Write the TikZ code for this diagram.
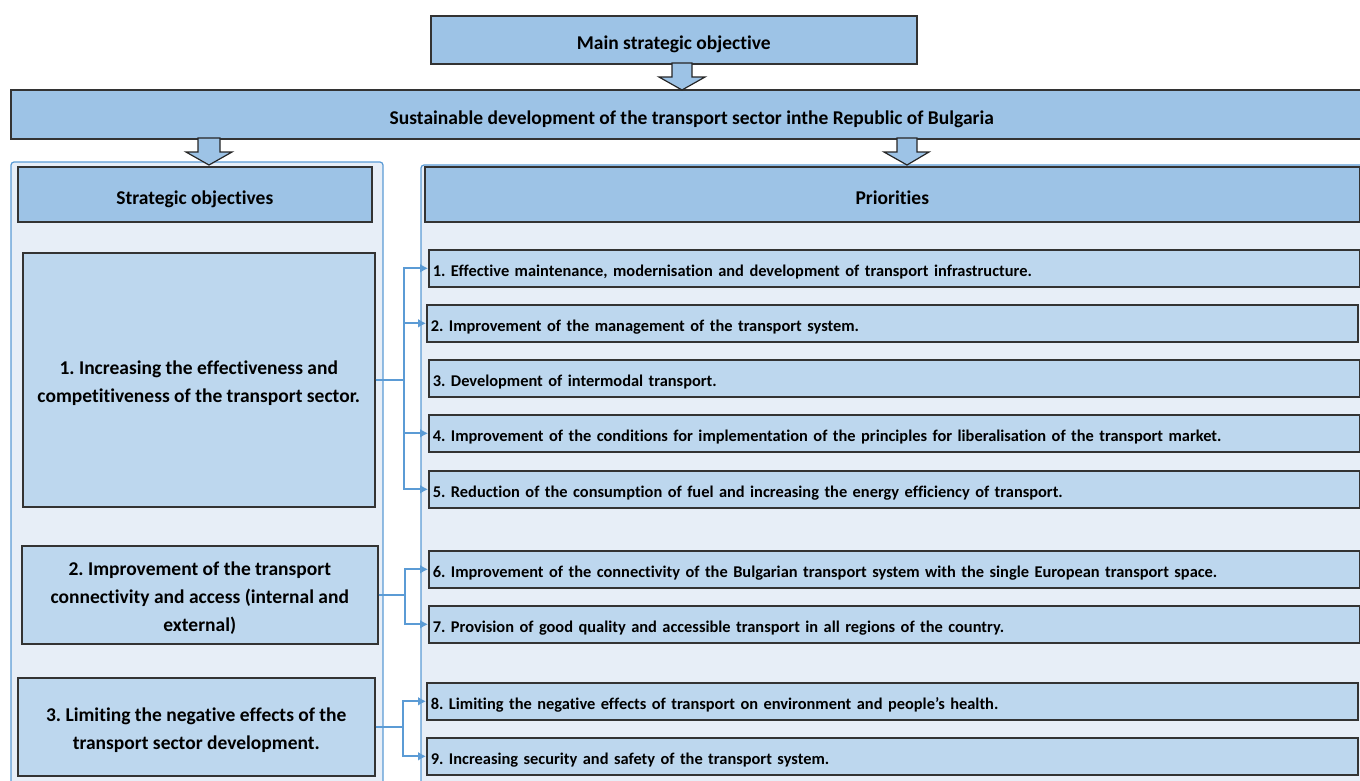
\documentclass[tikz,border=0pt]{standalone}
\usepackage{fontspec}
\setmainfont{Carlito}[Ligatures=NoCommon]
\usetikzlibrary{arrows.meta}
\frenchspacing
\definecolor{hdrblue}{RGB}{157,195,230}
\definecolor{boxblue}{RGB}{189,215,238}
\definecolor{panelfill}{RGB}{231,238,247}
\definecolor{linkblue}{RGB}{91,155,213}
\newcommand{\objstrut}{\rule{0pt}{20pt}}
\tikzset{
  hdrbox/.style={draw=black!80, line width=1.6pt, fill=hdrblue, anchor=north west, inner sep=0pt,
    text height=20pt, text depth=0pt, font=\bfseries\fontsize{19.5}{24}\selectfont},
  objbox/.style={draw=black!80, line width=1.6pt, fill=boxblue, anchor=north west, inner sep=0pt,
    align=center, font=\bfseries\fontsize{19.5}{28}\selectfont},
  pribox/.style={draw=black!80, line width=1.6pt, fill=boxblue, anchor=north west, inner xsep=4pt,
    inner ysep=0pt, minimum height=37pt, text width=923pt, align=left,
    text height=17pt, text depth=0pt, font=\bfseries\fontsize{16.4}{20}\selectfont},
  panel/.style={draw=linkblue, line width=1.2pt, fill=panelfill, rounded corners=3pt},
  blockarr/.style={draw=black!85, line width=1.2pt, fill=hdrblue},
  link/.style={draw=linkblue, line width=2.2pt, -{Latex[length=8pt,width=9pt]}}
}
\begin{document}
\begin{tikzpicture}[x=1pt,y=1pt,yscale=-1]
\clip (0,0) rectangle (1360,780);

%Shape: Panels
\draw [panel] (11,162) rectangle (383,800);
\draw [panel] (421,165) rectangle (1372,800);

% Top boxes
\node [hdrbox, minimum width=486pt, minimum height=48pt] (mainobj) at (430,15) {Main strategic objective};
\node [hdrbox, minimum width=1362pt, minimum height=49pt] (sustdev) at (10,89) {Sustainable development of the transport sector inthe Republic of Bulgaria};

%Shape: Block arrows
\draw [blockarr] (672,63) -- (692,63) -- (692,77) -- (705,77) -- (682,90) -- (659,77) -- (672,77) -- cycle;
\draw [blockarr] (198,138) -- (220,138) -- (220,152) -- (232,152) -- (209,165) -- (186,152) -- (198,152) -- cycle;
\draw [blockarr] (897,138) -- (917,138) -- (917,152) -- (929,152) -- (907,165) -- (884,152) -- (897,152) -- cycle;

% Column headers
\node [hdrbox, minimum width=354pt, minimum height=55pt] (objhdr) at (17,166) {Strategic objectives};
\node [hdrbox, minimum width=935pt, minimum height=55pt] (prihdr) at (424,166) {Priorities};

% Strategic objectives
\node [objbox, minimum width=352pt, minimum height=254pt] (obj1) at (22,252)
  {\objstrut 1. Increasing the effectiveness and\\competitiveness of the transport sector.};
\node [objbox, minimum width=356pt, minimum height=98pt] (obj2) at (21,545)
  {\objstrut 2. Improvement of the transport\\connectivity and access (internal and\\external)};
\node [objbox, minimum width=357pt, minimum height=98pt] (obj3) at (17,677)
  {\objstrut 3. Limiting the negative effects of the\\transport sector development.};

% Priorities
\node [pribox] (pri1) at (428,249) {1. Effective maintenance, modernisation and development of transport infrastructure.};
\node [pribox] (pri2) at (426,304) {2. Improvement of the management of the transport system.};
\node [pribox] (pri3) at (428,359) {3. Development of intermodal transport.};
\node [pribox] (pri4) at (428,414) {4. Improvement of the conditions for implementation of the principles for liberalisation of the transport market.};
\node [pribox] (pri5) at (428,470) {5. Reduction of the consumption of fuel and increasing the energy efficiency of transport.};
\node [pribox] (pri6) at (428,550) {6. Improvement of the connectivity of the Bulgarian transport system with the single European transport space.};
\node [pribox] (pri7) at (428,605) {7. Provision of good quality and accessible transport in all regions of the country.};
\node [pribox] (pri8) at (426,682) {8. Limiting the negative effects of transport on environment and people's health.};
\node [pribox] (pri9) at (426,737) {9. Increasing security and safety of the transport system.};

%Straight Lines: links
\draw [link] (obj1.east) -- ++(28,0) |- (pri1.west);
\draw [link] (obj1.east) -- ++(28,0) |- (pri2.west);
\draw [link] (obj1.east) -- ++(28,0) |- (pri4.west);
\draw [link] (obj1.east) -- ++(28,0) |- (pri5.west);
\draw [link] (obj2.east) -- ++(26,0) |- (pri6.west);
\draw [link] (obj2.east) -- ++(26,0) |- (pri7.west);
\draw [link] (obj3.east) -- ++(27,0) |- (pri8.west);
\draw [link] (obj3.east) -- ++(27,0) |- (pri9.west);
\end{tikzpicture}
\end{document}
